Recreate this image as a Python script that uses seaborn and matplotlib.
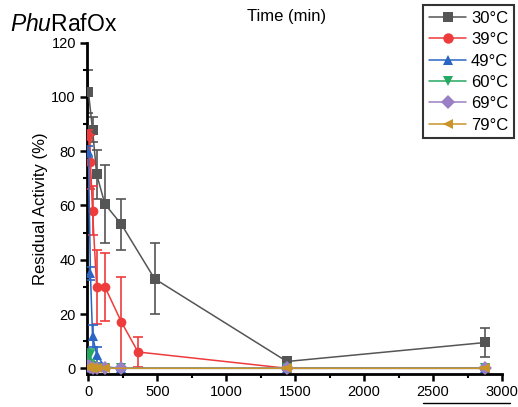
import matplotlib
matplotlib.use("Agg")
import matplotlib.pyplot as plt
import seaborn as sns
import pandas as pd
import numpy as np
from matplotlib.lines import Line2D

sns.set_theme(style="ticks")
plt.rcParams['font.family'] = ['Liberation Sans', 'DejaVu Sans']
plt.rcParams['mathtext.fontset'] = 'custom'
plt.rcParams['mathtext.rm'] = 'Liberation Sans'
plt.rcParams['mathtext.it'] = 'Liberation Sans:italic'

series = ["30°C", "39°C", "49°C", "60°C", "69°C", "79°C"]
colors = ["#555555", "#EE3B3B", "#2B66C4", "#27A862", "#9B7FC4", "#C9952B"]
markers = ["s", "o", "^", "v", "D", "<"]

t_30 = [0, 30, 60, 120, 240, 480, 1440, 2880]
v_30 = [102, 88, 71.5, 60.5, 53, 33, 2.5, 9.5]
e_30 = [8, 4.5, 9, 14.5, 9.5, 13, 1.5, 5.5]

t_39 = [0, 15, 30, 60, 120, 240, 360, 1440, 2880]
v_39 = [86, 76, 58, 30, 30, 17, 6, 0, 0]
e_39 = [2, 10, 9, 13.5, 12.5, 16.5, 5.5, 0.5, 0.5]

t_49 = [0, 15, 30, 60, 120, 240, 1440, 2880]
v_49 = [80, 35, 12, 5, 0.5, 0, 0, 0]
e_49 = [2, 2.5, 4, 3, 0.5, 0.5, 0.3, 0.3]

t_60 = [0, 15, 30, 60, 120, 240, 1440, 2880]
v_60 = [4, 5, 1, 0, 0, 0, 0, 0]
e_60 = [2, 2, 1, 0.5, 0.3, 0.3, 0.3, 0.3]

t_69 = [0, 15, 30, 60, 120, 240, 1440, 2880]
v_69 = [1, 0.5, 0, 0, 0, 0, 0, 0]
e_69 = [1, 0.5, 0.3, 0.3, 0.3, 0.3, 0.3, 0.3]

t_79 = [0, 15, 30, 60, 120, 1440, 2880]
v_79 = [0.5, 0, 0, 0, 0, 0, 0]
e_79 = [0.5, 0.3, 0.3, 0.3, 0.3, 0.3, 0.3]

times = [t_30, t_39, t_49, t_60, t_69, t_79]
vals = [v_30, v_39, v_49, v_60, v_69, v_79]
errs = [e_30, e_39, e_49, e_60, e_69, e_79]

rows = []
for name, ts, vs, es in zip(series, times, vals, errs):
    for t, v, e in zip(ts, vs, es):
        rows.append({"Temp": name, "Time": t, "Activity": v, "Err": e})
df = pd.DataFrame(rows)

fig = plt.figure(figsize=(5.18, 4.07), dpi=100)
ax = fig.add_axes([87/518, 1 - 373.7/407, (502 - 87)/518, (373.7 - 42.7)/407])

for i, name in enumerate(series):
    sub = df[df.Temp == name]
    ax.errorbar(sub.Time, sub.Activity, yerr=sub.Err, fmt='none',
                ecolor=colors[i], elinewidth=1.2, capsize=3.5, capthick=1.2,
                zorder=2 + i)
    sns.lineplot(data=sub, x="Time", y="Activity", color=colors[i],
                 marker=markers[i], markersize=7, markeredgewidth=0,
                 linewidth=1.1, sort=False, ax=ax, zorder=3 + i,
                 legend=False, errorbar=None)

ax.set_xlim(-10, 3000)
ax.set_ylim(-2, 120)
ax.set_xticks([0, 500, 1000, 1500, 2000, 2500, 3000])
ax.set_xticks([250, 750, 1250, 1750, 2250, 2750], minor=True)
ax.set_yticks([0, 20, 40, 60, 80, 100, 120])
ax.set_yticks([10, 30, 50, 70, 90, 110], minor=True)
ax.tick_params(axis='both', which='major', direction='out', length=5, width=1.8,
               labelsize=10.5, color='black', labelcolor='black', pad=3)
ax.tick_params(axis='both', which='minor', direction='out', length=3, width=1.5,
               color='black')
for s in ['left', 'bottom']:
    ax.spines[s].set_linewidth(2)
    ax.spines[s].set_color('black')
for s in ['top', 'right']:
    ax.spines[s].set_visible(False)
ax.set_xlabel("")
ax.set_ylabel("Residual Activity (%)", fontsize=12, labelpad=2, color='black')

fig.text(287/518, 1 - 21/407, "Time (min)", fontsize=12, ha='center',
         va='baseline', color='black')
fig.text(10/518, 1 - 31/407, r"$\mathit{Phu}$RafOx", fontsize=16.5,
         ha='left', va='baseline', color='black')

handles = [Line2D([0], [0], color=c, marker=m, markersize=7.5, markeredgewidth=0,
                  linewidth=1.1) for c, m in zip(colors, markers)]
leg = fig.legend(handles, series, loc='upper right',
                 bbox_to_anchor=(514/518, 1 - 5/407), fontsize=12,
                 frameon=True, fancybox=False, handlelength=2.2,
                 handletextpad=0.3, labelspacing=0.38, borderpad=0.35,
                 borderaxespad=0)
leg.get_frame().set_edgecolor('black')
leg.get_frame().set_linewidth(1.5)
for txt in leg.get_texts():
    txt.set_color('black')

fig.add_artist(Line2D([423/518, 510/518], [1 - 403/407, 1 - 403/407],
                      color='black', linewidth=1))

fig.savefig("out.png", dpi=100)
